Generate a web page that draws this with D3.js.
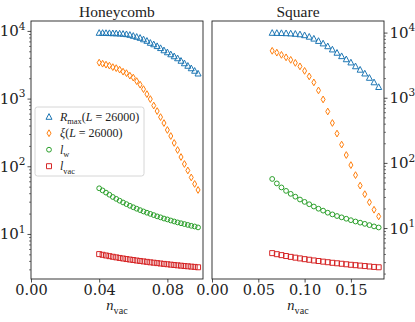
<!DOCTYPE html>
<html>
<head>
<meta charset="utf-8">
<script src="https://cdn.jsdelivr.net/npm/d3@7"></script>
<style>
  body { margin: 0; background: #fff; }
  svg { display: block; }
</style>
</head>
<body>
<div id="chart"></div>
<script>
// values
const titles = ["Honeycomb", "Square"]

const nHoney = [0.040, 0.042, 0.044, 0.046, 0.048, 0.050, 0.052, 0.054, 0.056, 0.058,
                0.060, 0.062, 0.064, 0.066, 0.068, 0.070, 0.072, 0.074, 0.076, 0.078,
                0.080, 0.082, 0.084, 0.086, 0.088, 0.090, 0.092, 0.094, 0.096, 0.098]
const rmaxHoney = [9400, 9380, 9350, 9320, 9280, 9240, 9180, 9100, 8980, 8790,
                   8495, 8213, 7937, 7543, 7170, 6699, 6367, 5989, 5596, 5193,
                   4853, 4532, 4235, 3957, 3636, 3339, 3067, 2818, 2588, 2355]
const xiHoney = [3396, 3281, 3174, 3069, 2916, 2818, 2679, 2500, 2377, 2183,
                 2042, 1811, 1607, 1380, 1164, 984, 789, 654, 533, 435,
                 344, 280, 221, 174, 137, 108, 86.7, 68.4, 54.8, 44.7]
const lwHoney = [47.3, 44.0, 40.8, 38.0, 35.2, 33.0, 31.0, 29.2, 27.6, 26.1,
                 24.8, 23.6, 22.5, 21.5, 20.6, 19.8, 19.0, 18.2, 17.6, 16.9,
                 16.4, 15.8, 15.3, 14.8, 14.4, 14.0, 13.6, 13.2, 12.9, 12.5]
const lvacHoney = [5.04, 4.92, 4.81, 4.70, 4.60, 4.51, 4.42, 4.34, 4.26, 4.19,
                   4.12, 4.05, 3.99, 3.93, 3.87, 3.81, 3.76, 3.71, 3.66, 3.61,
                   3.57, 3.52, 3.48, 3.44, 3.40, 3.36, 3.33, 3.29, 3.26, 3.22]

const nSquare = [0.065, 0.070, 0.075, 0.080, 0.085, 0.090, 0.095, 0.100, 0.105, 0.110, 0.115, 0.120,
                 0.125, 0.130, 0.135, 0.140, 0.145, 0.150, 0.155, 0.160, 0.165, 0.170, 0.175, 0.180]
const rmaxSquare = [9950, 9920, 9880, 9820, 9740, 9620, 9450, 9153, 8679, 8114, 7478, 6845,
                    6198, 5535, 4924, 4365, 3912, 3493, 3052, 2705, 2365, 2031, 1732, 1466]
const xiSquare = [5248, 4924, 4554, 4169, 3815, 3431, 3030, 2584, 2127, 1720, 1295, 942,
                  615, 410, 282, 191, 132, 92.5, 64.9, 44.8, 33.1, 24.9, 19.1, 15.1]
const lwSquare = [56.7, 48.4, 42.0, 37.2, 33.5, 30.3, 27.4, 25.2, 23.2, 21.4, 19.8, 18.5,
                  17.2, 16.2, 15.3, 14.6, 13.9, 13.2, 12.6, 12.1, 11.6, 11.1, 10.6, 10.2]
const lvacSquare = [4.12, 3.97, 3.84, 3.72, 3.61, 3.51, 3.42, 3.33, 3.26, 3.18, 3.12, 3.05,
                    2.99, 2.93, 2.88, 2.83, 2.78, 2.73, 2.69, 2.65, 2.61, 2.57, 2.53, 2.50]

const xTicksHoney = [0, 0.04, 0.08]
const xTicksSquare = [0, 0.05, 0.10, 0.15]
const yTicks = [10, 100, 1000, 10000]

const colors = { rmax: "#1f77b4", xi: "#ff7f0e", lw: "#2ca02c", lvac: "#d62728" }

const width = 415, height = 322
const plotTop = 21, plotBottom = 279
const serif = "'Liberation Serif', 'DejaVu Serif', serif"
const tickFont = "'DejaVu Serif', serif"

const svg = d3.select("#chart").append("svg")
    .attr("width", width).attr("height", height)

// marker shapes, hollow like matplotlib fillstyle none
const markers = {
    tri: "M0,-3.1L-3,2.6L3,2.6Z",
    dia: "M0,-3.4L2,0L0,3.4L-2,0Z",
    sq: "M-2.5,-2.5H2.5V2.5H-2.5Z",
    circ: "M2.4,0A2.4,2.4 0 1,1 -2.4,0A2.4,2.4 0 1,1 2.4,0Z"
}

// text with italic / sub / sup parts
const richText = (g, parts, size) => {
    const t = g.append("text").attr("font-family", serif).attr("font-size", size).attr("fill", "#222")
    let shift = 0
    parts.forEach(p => {
        const s = t.append("tspan").text(p.t)
        let want = p.sub ? size * 0.3 : p.sup ? -size * 0.45 : 0
        if (want !== shift) { s.attr("dy", want - shift); shift = want }
        if (p.it) s.attr("font-style", "italic")
        if (p.sub || p.sup) s.attr("font-size", size * 0.7)
        if (p.font) s.attr("font-family", p.font)
    })
    return t
}

const logPad = (vals) => {
    const lo = Math.log10(d3.min(vals)), hi = Math.log10(d3.max(vals))
    const m = 0.05 * (hi - lo)
    return [Math.pow(10, lo - m), Math.pow(10, hi + m)]
}

const drawPanel = (p) => {
    const g = svg.append("g")
    const xmin = d3.min(p.n), xmax = d3.max(p.n)
    const x = d3.scaleLinear().domain([0, xmax + 0.05 * (xmax - xmin)]).range([p.x0, p.x1])
    const all = [].concat(p.rmax, p.xi, p.lw, p.lvac)
    const y = d3.scaleLog().domain(logPad(all)).range([plotBottom, plotTop])

    // minor ticks
    const [d0, d1] = y.domain()
    const minors = []
    for (let e = Math.floor(Math.log10(d0)); e <= Math.ceil(Math.log10(d1)); e++) {
        for (let k = 2; k <= 9; k++) {
            const v = k * Math.pow(10, e)
            if (v >= d0 && v <= d1) minors.push(v)
        }
    }
    const side = p.ySide === "left"
    const axisFn = side ? d3.axisLeft : d3.axisRight
    const axX = side ? p.x0 : p.x1

    g.append("g").attr("transform", `translate(${axX},0)`)
        .call(axisFn(y).tickValues(minors).tickSize(2).tickFormat(""))
        .call(a => a.select(".domain").remove())
        .call(a => a.selectAll("line").attr("stroke", "#222").attr("stroke-width", 0.6))

    g.append("g").attr("transform", `translate(${axX},0)`)
        .call(axisFn(y).tickValues(yTicks).tickSize(3.5).tickFormat(""))
        .call(a => a.select(".domain").remove())
        .call(a => a.selectAll("line").attr("stroke", "#222").attr("stroke-width", 0.8))
    yTicks.forEach(v => {
        richText(g, [{ t: "10", font: tickFont }, { t: String(Math.round(Math.log10(v))), sup: true, font: tickFont }], 15)
            .attr("x", side ? axX - 5.5 : axX + 5.5)
            .attr("y", y(v) + 5.5)
            .attr("text-anchor", side ? "end" : "start")
    })

    const xa = g.append("g").attr("transform", `translate(0,${plotBottom})`)
        .call(d3.axisBottom(x).tickValues(p.xTicks).tickSize(3.5).tickFormat(d3.format(".2f")))
        .call(a => a.select(".domain").remove())
        .call(a => a.selectAll("line").attr("stroke", "#222").attr("stroke-width", 0.8))
    xa.selectAll("text").attr("font-family", tickFont).attr("font-size", 14.5)
        .attr("fill", "#222").attr("dy", null).attr("y", 16)

    // frame
    g.append("rect").attr("x", p.x0).attr("y", plotTop)
        .attr("width", p.x1 - p.x0).attr("height", plotBottom - plotTop)
        .attr("fill", "none").attr("stroke", "#222").attr("stroke-width", 0.9)

    // series
    const series = [
        { vals: p.rmax, m: markers.tri, c: colors.rmax },
        { vals: p.xi, m: markers.dia, c: colors.xi },
        { vals: p.lw, m: markers.circ, c: colors.lw },
        { vals: p.lvac, m: markers.sq, c: colors.lvac }
    ]
    series.forEach(s => {
        g.append("g").selectAll("path")
            .data(p.n.map((d, i) => [d, s.vals[i]]))
            .join("path")
            .attr("d", s.m)
            .attr("transform", d => `translate(${x(d[0])},${y(d[1])})`)
            .attr("fill", "none").attr("stroke", s.c).attr("stroke-width", 1)
    })

    // title and x label
    g.append("text").text(p.title)
        .attr("x", (p.x0 + p.x1) / 2).attr("y", 16.5)
        .attr("text-anchor", "middle").attr("font-family", serif).attr("font-size", 15.5).attr("fill", "#222")
    richText(g, [{ t: "n", it: true }, { t: "vac", sub: true }], 14.5)
        .attr("x", (p.x0 + p.x1) / 2).attr("y", 310).attr("text-anchor", "middle")

    if (p.legend) {
        const lg = g.append("g")
        lg.append("rect").attr("x", 35).attr("y", 107).attr("width", 109).attr("height", 69)
            .attr("rx", 2.5).attr("fill", "#fff").attr("fill-opacity", 0.8)
            .attr("stroke", "#cccccc").attr("stroke-width", 0.8)
        const items = [
            { m: markers.tri, c: colors.rmax, parts: [{ t: "R", it: true }, { t: "max", sub: true }, { t: "(" }, { t: "L", it: true }, { t: " = 26000)" }] },
            { m: markers.dia, c: colors.xi, parts: [{ t: "ξ", it: true }, { t: "(" }, { t: "L", it: true }, { t: " = 26000)" }] },
            { m: markers.circ, c: colors.lw, parts: [{ t: "l", it: true }, { t: "w", sub: true }] },
            { m: markers.sq, c: colors.lvac, parts: [{ t: "l", it: true }, { t: "vac", sub: true }] }
        ]
        items.forEach((it, i) => {
            const cy = 116.7 + i * 16.5
            lg.append("path").attr("d", it.m).attr("transform", `translate(49,${cy})`)
                .attr("fill", "none").attr("stroke", it.c).attr("stroke-width", 1)
            richText(lg, it.parts, 12).attr("x", 60).attr("y", cy + 4)
        })
    }
}

drawPanel({ x0: 31, x1: 203, n: nHoney, rmax: rmaxHoney, xi: xiHoney, lw: lwHoney, lvac: lvacHoney,
            xTicks: xTicksHoney, ySide: "left", title: titles[0], legend: true })
drawPanel({ x0: 212, x1: 384, n: nSquare, rmax: rmaxSquare, xi: xiSquare, lw: lwSquare, lvac: lvacSquare,
            xTicks: xTicksSquare, ySide: "right", title: titles[1], legend: false })
</script>
</body>
</html>
